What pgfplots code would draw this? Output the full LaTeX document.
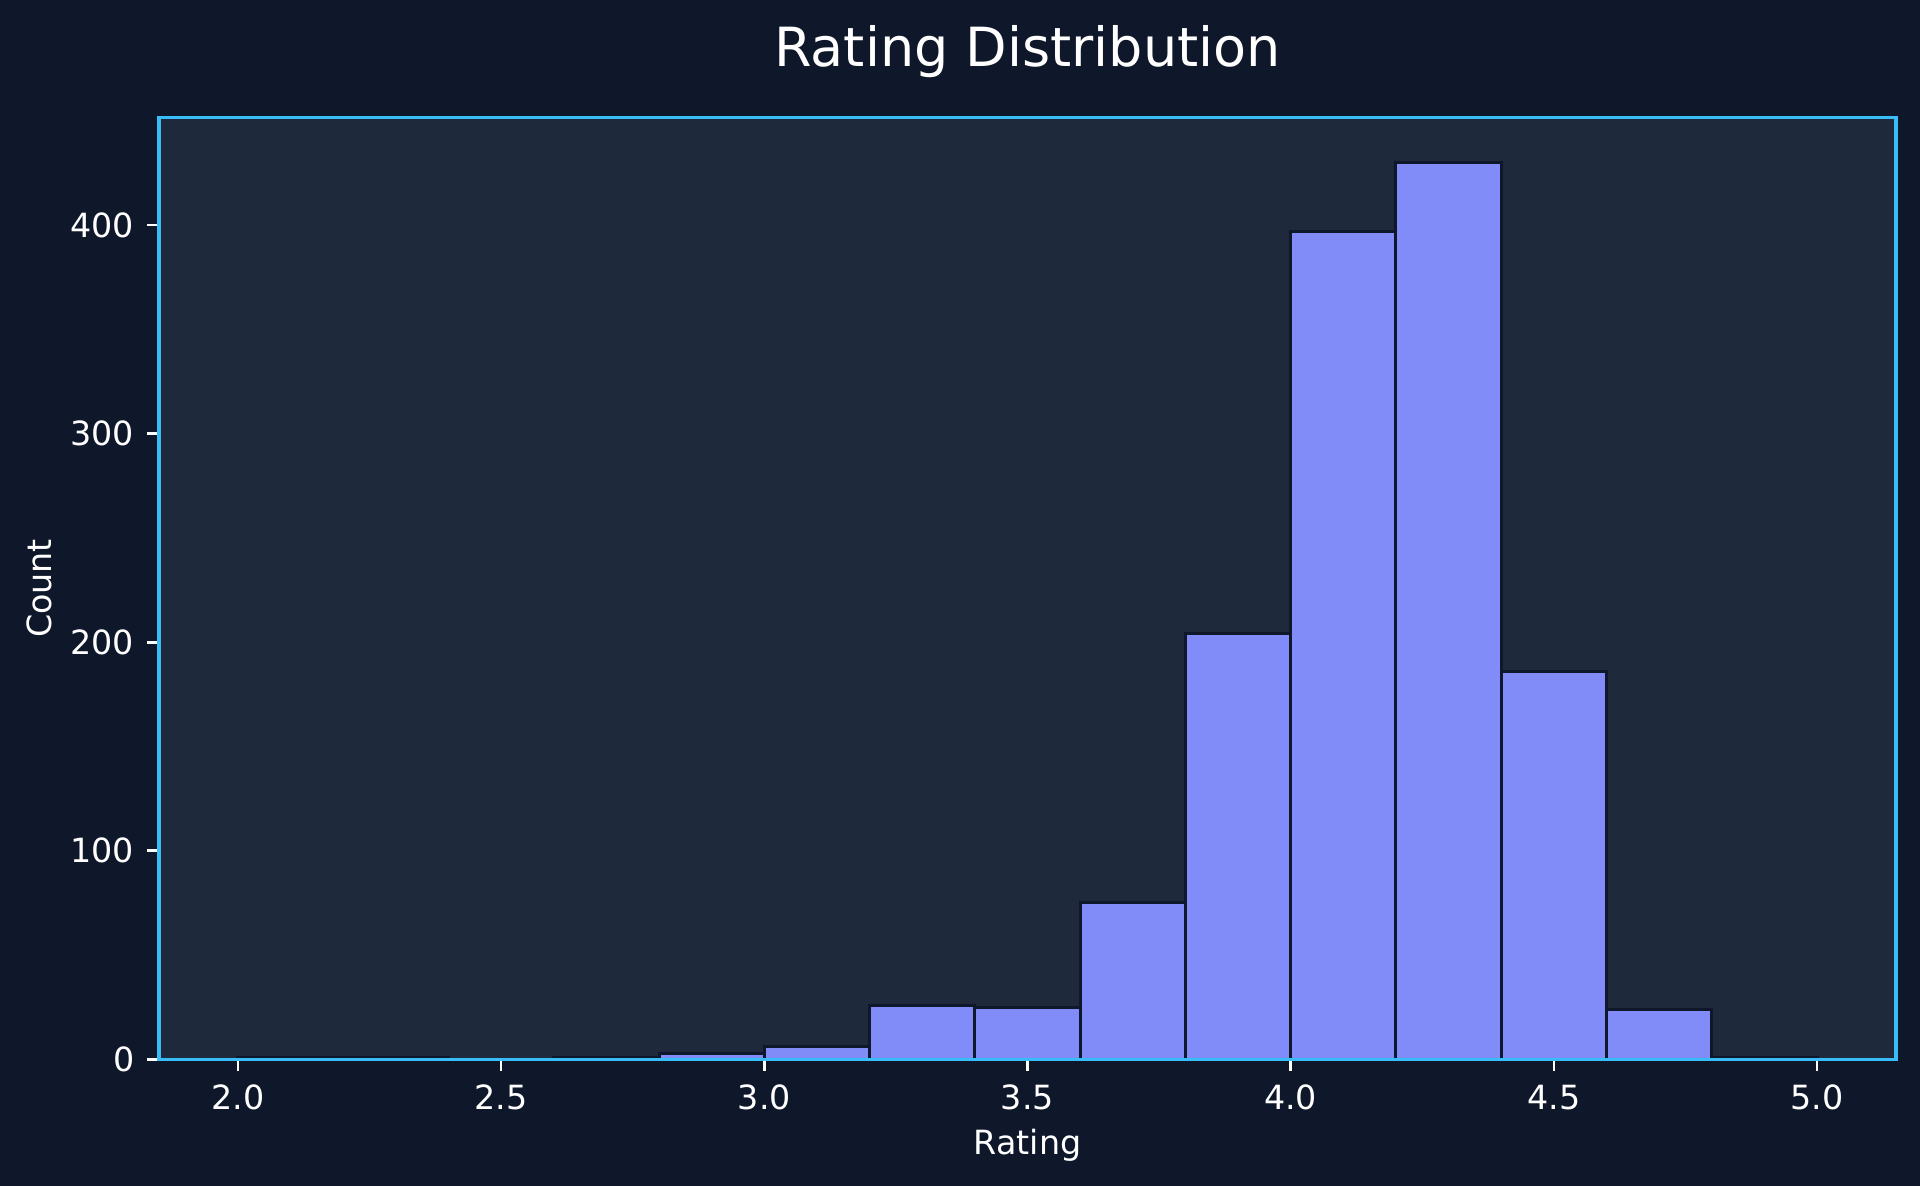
\documentclass[border=0pt]{standalone}
\usepackage{fontspec}
\setmainfont{DejaVu Sans}
\usepackage{pgfplots}
\pgfplotsset{compat=1.18}
\definecolor{figbg}{HTML}{0F172A}
\definecolor{axbg}{HTML}{1E293B}
\definecolor{barcol}{HTML}{818CF8}
\definecolor{edgecol}{HTML}{0F172A}
\definecolor{spine}{HTML}{38BDF8}
\begin{document}
\begin{tikzpicture}
\fill[figbg] (0,0) rectangle (576pt,355.8pt);
\begin{axis}[
  at={(47.7pt,38pt)}, anchor=south west,
  scale only axis, width=521.1pt, height=282.5pt,
  xmin=1.85, xmax=5.15, ymin=0, ymax=451.5,
  axis on top,
  axis background/.style={fill=axbg},
  axis line style={draw=spine, line width=1pt},
  xtick={2,2.5,3,3.5,4,4.5,5},
  ytick={0,100,200,300,400},
  xtick pos=bottom, ytick pos=left,
  tick align=outside,
  major tick length=3.5pt,
  tick style={white, line width=0.8pt},
  /pgf/number format/assume math mode=true,
  xticklabel style={/pgf/number format/.cd, fixed, fixed zerofill, precision=1, /tikz/.cd, anchor=base, yshift=-11.5pt, font=\fontsize{10}{12}\selectfont, text=white},
  yticklabel style={/pgf/number format/.cd, fixed, precision=0, /tikz/.cd, xshift=-0.4pt, font=\fontsize{10}{12}\selectfont, text=white},
  title={Rating Distribution},
  title style={at={(axis description cs:0.5,1)}, anchor=base, yshift=9.4pt, font=\fontsize{16.2}{20}\selectfont, text=white},
  xlabel={Rating},
  xlabel style={at={(axis description cs:0.5,0)}, anchor=base, yshift=-28.6pt, font=\fontsize{10}{12}\selectfont, text=white},
  ylabel={Count},
  ylabel style={at={(axis description cs:-0.0691,0.5)}, anchor=center, font=\fontsize{10}{12}\selectfont, text=white},
]
\addplot[ybar interval, fill=barcol, draw=edgecol, line width=0.9pt] coordinates {
(2.0,1) (2.2,1) (2.4,0) (2.6,1) (2.8,3) (3.0,6) (3.2,26) (3.4,25)
(3.6,75) (3.8,204) (4.0,397) (4.2,430) (4.4,186) (4.6,24) (4.8,1) (5.0,1)
};
\end{axis}
\pgfresetboundingbox
\path[use as bounding box] (0,0) rectangle (576pt,355.8pt);
\end{tikzpicture}
\end{document}
